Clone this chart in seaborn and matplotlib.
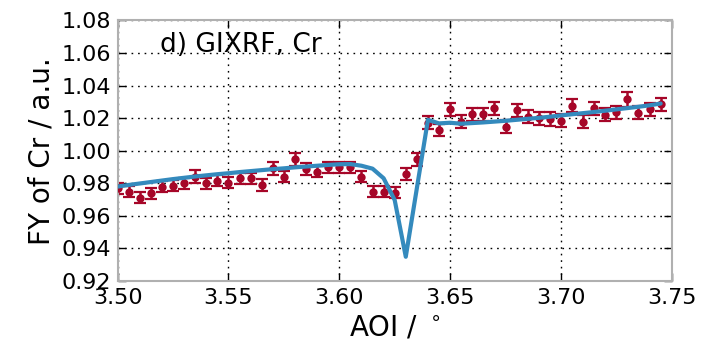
import numpy as np
import pandas as pd
import matplotlib
matplotlib.use("Agg")
import matplotlib.pyplot as plt
import seaborn as sns

# ---- data ----
aoi = [3.500, 3.505, 3.510, 3.515, 3.520, 3.525, 3.530, 3.535, 3.540, 3.545,
       3.550, 3.555, 3.560, 3.565, 3.570, 3.575, 3.580, 3.585, 3.590, 3.595,
       3.600, 3.605, 3.610, 3.615, 3.620, 3.625, 3.630, 3.635, 3.640, 3.645,
       3.650, 3.655, 3.660, 3.665, 3.670, 3.675, 3.680, 3.685, 3.690, 3.695,
       3.700, 3.705, 3.710, 3.715, 3.720, 3.725, 3.730, 3.735, 3.740, 3.745]

fy_meas = [0.9769, 0.9749, 0.9712, 0.9739, 0.9779, 0.9785, 0.9800, 0.9841, 0.9800, 0.9816,
           0.9804, 0.9831, 0.9831, 0.9790, 0.9892, 0.9841, 0.9947, 0.9889, 0.9871, 0.9898,
           0.9898, 0.9898, 0.9841, 0.9749, 0.9749, 0.9742, 0.9857, 0.9947, 1.0172, 1.0127,
           1.0255, 1.0178, 1.0224, 1.0224, 1.0261, 1.0148, 1.0250, 1.0209, 1.0199, 1.0195,
           1.0185, 1.0275, 1.0178, 1.0261, 1.0220, 1.0235, 1.0316, 1.0234, 1.0255, 1.0287]

fy_err = [0.0035, 0.0035, 0.0035, 0.0035, 0.0035, 0.0035, 0.0035, 0.0040, 0.0035, 0.0035,
          0.0035, 0.0035, 0.0035, 0.0035, 0.0040, 0.0035, 0.0040, 0.0035, 0.0035, 0.0035,
          0.0035, 0.0035, 0.0035, 0.0035, 0.0035, 0.0035, 0.0035, 0.0040, 0.0040, 0.0035,
          0.0040, 0.0040, 0.0040, 0.0040, 0.0040, 0.0040, 0.0040, 0.0040, 0.0040, 0.0040,
          0.0040, 0.0040, 0.0040, 0.0040, 0.0040, 0.0040, 0.0045, 0.0040, 0.0040, 0.0040]

fy_fit = [0.9780, 0.9790, 0.9799, 0.9808, 0.9817, 0.9826, 0.9834, 0.9842, 0.9849, 0.9856,
          0.9862, 0.9869, 0.9875, 0.9881, 0.9887, 0.9892, 0.9898, 0.9903, 0.9908, 0.9913,
          0.9917, 0.9918, 0.9908, 0.9890, 0.9831, 0.9697, 0.9349, 0.9770, 1.0190, 1.0168,
          1.0172, 1.0166, 1.0170, 1.0174, 1.0179, 1.0184, 1.0190, 1.0196, 1.0202, 1.0209,
          1.0217, 1.0224, 1.0231, 1.0238, 1.0246, 1.0254, 1.0262, 1.0270, 1.0279, 1.0290]

xticks = [3.50, 3.55, 3.60, 3.65, 3.70, 3.75]
yticks = [0.92, 0.94, 0.96, 0.98, 1.00, 1.02, 1.04, 1.06, 1.08]

RED = "#A60628"
BLUE = "#348ABD"

df = pd.DataFrame({"aoi": aoi, "meas": fy_meas, "err": fy_err, "fit": fy_fit})

sns.set_style("white")
plt.rcParams["font.family"] = ["DejaVu Sans"]
plt.rcParams["text.color"] = "black"
plt.rcParams["axes.labelcolor"] = "black"
plt.rcParams["xtick.color"] = "black"
plt.rcParams["ytick.color"] = "black"

fig = plt.figure(figsize=(7.03, 3.49), dpi=100)
ax = fig.add_axes([0.1674, 0.1948, 0.9555 - 0.1674, 0.9413 - 0.1948])

ax.errorbar(df["aoi"], df["meas"], yerr=df["err"], fmt="none", ecolor=RED,
            elinewidth=1.8, capsize=4, capthick=1.6, zorder=2)
sns.scatterplot(data=df, x="aoi", y="meas", color=RED, s=36, edgecolor=RED,
                linewidth=0, ax=ax, zorder=3)
sns.lineplot(data=df, x="aoi", y="fit", color=BLUE, lw=3, ax=ax, zorder=4)

ax.set_xlim(3.50, 3.75)
ax.set_ylim(0.92, 1.08)
ax.set_xticks(xticks)
ax.set_yticks(yticks)
ax.set_xticklabels([f"{t:.2f}" for t in xticks])
ax.set_yticklabels([f"{t:.2f}" for t in yticks])
ax.grid(True, color="black", linestyle=(0, (1.2, 3.5)), linewidth=1)
ax.set_axisbelow(True)

for s in ax.spines.values():
    s.set_color("#b0b0b0")
    s.set_linewidth(1.5)
ax.tick_params(direction="in", length=6, width=1, color="black", labelsize=16,
               labelcolor="black", bottom=True, left=True, top=True, right=True, pad=5)

ax.set_xlabel("AOI / $^\\circ$", fontsize=20, color="black")
ax.set_ylabel("FY of Cr / a.u.", fontsize=20, color="black")
ax.text(0.077, 0.905, "d) GIXRF, Cr", transform=ax.transAxes, fontsize=19,
        va="center", ha="left", color="black")

fig.savefig("out.png", dpi=100)
